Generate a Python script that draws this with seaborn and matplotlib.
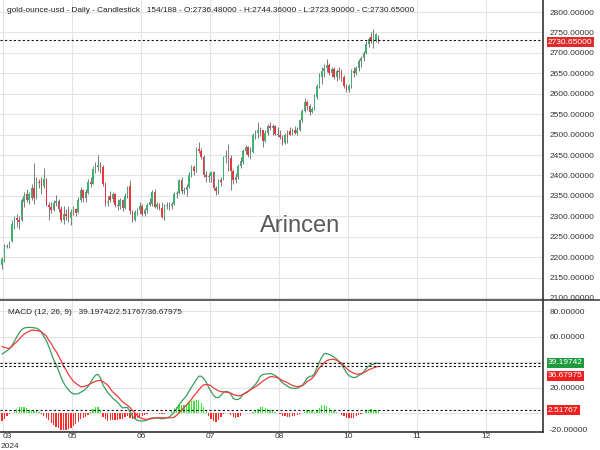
import numpy as np
import matplotlib
matplotlib.use('Agg')
import matplotlib.pyplot as plt
import seaborn as sns
from matplotlib.patches import Rectangle
from matplotlib.lines import Line2D

# ---------------- data ----------------
opens = [2180, 2195, 2225, 2232, 2240, 2275, 2295, 2290, 2290, 2335,
         2355, 2340, 2345, 2370, 2345, 2383, 2388, 2375, 2392, 2328,
         2322, 2316, 2332, 2338, 2318, 2290, 2305, 2312, 2295, 2310,
         2318, 2310, 2340, 2365, 2345, 2358, 2385, 2380, 2415, 2420,
         2425, 2420, 2378, 2332, 2350, 2342, 2355, 2328, 2325, 2340,
         2320, 2350, 2375, 2310, 2292, 2310, 2315, 2325, 2305, 2315,
         2328, 2330, 2360, 2322, 2330, 2320, 2298, 2325, 2328, 2325,
         2330, 2355, 2358, 2388, 2362, 2365, 2372, 2400, 2420, 2410,
         2465, 2460, 2445, 2400, 2395, 2398, 2408, 2370, 2362, 2388,
         2390, 2445, 2445, 2442, 2410, 2388, 2395, 2422, 2432, 2460,
         2470, 2450, 2458, 2500, 2505, 2512, 2510, 2485, 2505, 2520,
         2516, 2520, 2502, 2500, 2495, 2480, 2498, 2508, 2500, 2510,
         2505, 2512, 2535, 2558, 2580, 2570, 2555, 2562, 2592, 2620,
         2640, 2655, 2662, 2670, 2650, 2660, 2640, 2655, 2652, 2640,
         2620, 2610, 2618, 2655, 2650, 2662, 2680, 2688, 2700, 2722,
         2738, 2730, 2730, 2736.48]
highs = [2200, 2232, 2232, 2240, 2290, 2300, 2305, 2300, 2345, 2360,
         2368, 2360, 2378, 2430, 2395, 2392, 2395, 2418, 2393, 2335,
         2335, 2340, 2352, 2342, 2325, 2325, 2318, 2325, 2318, 2325,
         2320, 2348, 2372, 2368, 2368, 2392, 2395, 2422, 2432, 2450,
         2432, 2425, 2385, 2350, 2362, 2360, 2358, 2342, 2345, 2342,
         2358, 2375, 2388, 2315, 2315, 2320, 2335, 2330, 2320, 2332,
         2345, 2365, 2368, 2335, 2332, 2335, 2330, 2335, 2335, 2335,
         2360, 2362, 2392, 2395, 2372, 2378, 2408, 2425, 2425, 2470,
         2483, 2468, 2450, 2412, 2405, 2410, 2412, 2375, 2392, 2395,
         2448, 2462, 2478, 2450, 2415, 2405, 2428, 2445, 2465, 2475,
         2472, 2470, 2505, 2510, 2531, 2518, 2512, 2512, 2525, 2530,
         2525, 2524, 2518, 2512, 2500, 2505, 2512, 2518, 2515, 2520,
         2518, 2538, 2562, 2590, 2585, 2575, 2568, 2600, 2625, 2650,
         2665, 2672, 2685, 2675, 2665, 2665, 2660, 2665, 2660, 2645,
         2625, 2625, 2660, 2665, 2668, 2685, 2692, 2705, 2728, 2740,
         2750, 2758, 2748, 2744.36]
lows = [2172, 2188, 2222, 2222, 2238, 2268, 2275, 2268, 2288, 2322,
        2335, 2330, 2340, 2330, 2342, 2370, 2355, 2370, 2325, 2292,
        2308, 2312, 2325, 2310, 2285, 2280, 2290, 2285, 2278, 2302,
        2300, 2308, 2335, 2335, 2335, 2355, 2372, 2378, 2405, 2412,
        2405, 2375, 2325, 2325, 2335, 2335, 2322, 2315, 2318, 2312,
        2318, 2345, 2305, 2286, 2288, 2302, 2305, 2300, 2300, 2308,
        2325, 2325, 2320, 2318, 2315, 2295, 2292, 2318, 2315, 2318,
        2328, 2345, 2355, 2355, 2355, 2350, 2370, 2395, 2402, 2408,
        2455, 2440, 2395, 2385, 2385, 2385, 2365, 2353, 2355, 2375,
        2388, 2430, 2410, 2365, 2380, 2382, 2392, 2418, 2428, 2452,
        2445, 2440, 2455, 2490, 2492, 2497, 2470, 2482, 2500, 2512,
        2498, 2500, 2495, 2488, 2475, 2478, 2480, 2498, 2498, 2502,
        2498, 2508, 2530, 2555, 2560, 2548, 2552, 2560, 2588, 2615,
        2625, 2640, 2652, 2645, 2640, 2635, 2630, 2635, 2630, 2615,
        2605, 2604, 2615, 2640, 2645, 2655, 2665, 2680, 2698, 2715,
        2725, 2712, 2726, 2723.90]
closes = [2195, 2225, 2228, 2236, 2282, 2295, 2290, 2285, 2340, 2350,
          2340, 2355, 2370, 2345, 2390, 2382, 2372, 2392, 2328, 2322,
          2316, 2332, 2338, 2318, 2290, 2305, 2300, 2295, 2310, 2318,
          2308, 2340, 2365, 2345, 2360, 2385, 2380, 2415, 2420, 2425,
          2420, 2380, 2330, 2335, 2340, 2355, 2328, 2325, 2340, 2320,
          2350, 2368, 2312, 2292, 2310, 2315, 2325, 2305, 2315, 2328,
          2335, 2360, 2322, 2330, 2320, 2298, 2325, 2328, 2325, 2330,
          2355, 2358, 2388, 2362, 2365, 2372, 2400, 2420, 2410, 2465,
          2460, 2445, 2400, 2395, 2398, 2408, 2370, 2362, 2388, 2385,
          2445, 2445, 2442, 2410, 2388, 2395, 2422, 2435, 2460, 2470,
          2450, 2455, 2500, 2505, 2512, 2510, 2485, 2505, 2520, 2516,
          2520, 2502, 2500, 2495, 2480, 2498, 2495, 2500, 2510, 2505,
          2512, 2535, 2558, 2580, 2570, 2555, 2562, 2592, 2620, 2640,
          2655, 2662, 2670, 2650, 2660, 2640, 2655, 2652, 2640, 2620,
          2610, 2618, 2655, 2650, 2662, 2680, 2688, 2700, 2722, 2735,
          2728, 2740, 2745, 2730.65]

macd_line = [46.4, 47.5, 48.9, 50.4, 52.8, 56.3, 59.7, 63.0, 65.4, 66.7,
             67.1, 67.2, 67.1, 66.9, 66.6, 65.5, 63.6, 60.0, 57.0, 52.3,
             47.0, 41.9, 38.0, 33.4, 28.3, 24.1, 20.9, 18.4, 16.5, 15.2,
             15.2, 15.5, 16.5, 17.6, 19.0, 21.2, 24.2, 27.4, 29.8, 30.6,
             27.8, 22.4, 19.2, 16.3, 14.2, 12.0, 10.3, 8.6, 6.5, 4.3,
             4.6, 4.6, 1.4, -1.9, -4.1, -5.3, -5.8, -5.9, -5.7, -5.1,
             -4.0, -3.5, -3.4, -3.4, -3.8, -4.2, -4.0, -3.4, -2.8, -1.0,
             1.2, 3.7, 6.8, 9.3, 11.6, 13.9, 17.3, 20.4, 23.3, 26.2,
             29.1, 29.1, 27.1, 24.4, 20.5, 17.2, 14.0, 12.4, 12.4, 14.0,
             16.4, 17.2, 16.9, 15.0, 11.7, 10.9, 10.9, 12.3, 15.0, 16.2,
             17.4, 18.6, 20.8, 22.7, 25.3, 28.9, 30.4, 30.7, 30.9, 31.2,
             30.6, 29.6, 28.4, 26.1, 23.9, 22.6, 21.4, 20.1, 19.7, 19.6,
             19.7, 20.7, 21.7, 24.4, 27.5, 28.9, 29.2, 30.9, 35.5, 40.1,
             44.0, 46.7, 46.8, 46.0, 45.2, 43.9, 42.5, 40.7, 38.3, 35.2,
             31.8, 29.6, 28.5, 28.0, 28.4, 29.7, 30.8, 32.4, 35.0, 36.9,
             37.9, 38.6, 39.1, 39.19742]
signal_line = [52.3, 51.5, 51.1, 50.8, 52.3, 54.3, 55.9, 58.1, 60.2, 62.0,
               63.2, 64.3, 64.9, 65.1, 64.7, 64.6, 63.7, 62.1, 60.5, 57.2,
               54.6, 51.0, 48.4, 44.9, 41.3, 37.0, 34.1, 30.5, 27.7, 25.1,
               23.5, 22.1, 20.9, 20.9, 21.4, 22.1, 23.2, 24.3, 25.1, 25.6,
               25.9, 24.8, 23.6, 22.0, 19.4, 16.8, 15.1, 13.4, 11.2, 9.0,
               7.7, 6.3, 4.6, 2.4, 0.5, -1.5, -3.3, -4.1, -4.5, -4.6,
               -4.4, -4.0, -3.7, -3.4, -3.4, -3.4, -3.4, -3.4, -3.4, -3.4,
               -2.9, -1.5, 0.4, 2.8, 4.7, 6.3, 8.7, 10.9, 13.9, 15.9,
               18.4, 20.7, 22.3, 22.6, 22.4, 21.6, 19.8, 18.7, 17.7, 17.0,
               16.9, 16.6, 16.4, 15.9, 14.8, 14.2, 13.8, 14.0, 14.9, 15.9,
               16.9, 18.5, 19.6, 20.8, 22.1, 23.7, 25.2, 26.5, 27.7, 28.7,
               28.7, 28.3, 27.8, 26.9, 25.6, 24.9, 24.1, 22.9, 21.9, 21.3,
               20.9, 21.2, 21.6, 23.0, 24.8, 26.0, 27.4, 29.5, 32.5, 35.6,
               37.6, 39.8, 41.2, 41.9, 42.2, 42.2, 41.5, 40.4, 39.4, 37.3,
               35.3, 33.4, 32.4, 31.5, 30.7, 30.7, 31.1, 31.8, 32.8, 34.1,
               34.8, 35.6, 36.3, 36.67975]

month_labels = ['03', '05', '06', '07', '08', '10', '11', '12']
price_ticks = [2100, 2150, 2200, 2250, 2300, 2350, 2400, 2450,
               2500, 2550, 2600, 2650, 2700, 2750, 2800]
macd_ticks = [0, 20, 40, 60, 80]
title_text = ("gold-ounce-usd - Daily - Candlestick   154/188 - O:2736.48000 - "
              "H:2744.36000 - L:2723.90000 - C:2730.65000")

# ---------------- style ----------------
sns.set_theme(style='white')
plt.rcParams['font.family'] = ['Liberation Sans', 'DejaVu Sans']

GREEN = '#3cb371'
RED = '#e8383b'
WICK = '#7a7a7a'
GRID = '#e4e4e4'
HIST_G = '#39e639'
HIST_R = '#ff2b2b'
AXC = '#222222'
TXT = '#333333'
FS = 6.0

W, H = 600, 450
def fx(px): return px / W
def fy(py): return 1 - py / H

o = np.array(opens, float); h = np.array(highs, float)
l = np.array(lows, float); c = np.array(closes, float)
m = np.array(macd_line, float); s = np.array(signal_line, float)
hist = m - s
n = len(c)
idx = np.arange(n)

fig = plt.figure(figsize=(6, 4.5), dpi=100)
ax1 = fig.add_axes([0, fy(300), 543 / W, 300 / H])
ax2 = fig.add_axes([0, fy(432), 543 / W, 132 / H], sharex=ax1)

# px -> bar index mapping: x_px = 2 + 2.46 * i
step = 2.46
x0 = 2.0
xlim = ((0 - x0) / step, (543 - x0) / step)
grid_px = [3, 72, 141, 210, 279, 348, 417, 486]
grid_pos = [(g - x0) / step for g in grid_px]

# ---------------- main candle panel ----------------
ax1.set_axisbelow(True)
cols = [GREEN if cc >= oo else RED for oo, cc in zip(o, c)]
ax1.vlines(idx, l, h, color=WICK, lw=0.7, zorder=2)
body_bot = np.minimum(o, c)
body_h = np.maximum(np.abs(c - o), 1.5)
ax1.bar(idx, body_h, bottom=body_bot, width=0.62, color=cols, linewidth=0, zorder=3)

ax1.axhline(c[-1], color='#111111', lw=0.8, ls=(0, (2, 2)), zorder=4)

ax1.set_ylim(2095.1, 2829.4)
ax1.set_xlim(*xlim)
ax1.set_yticks(price_ticks)
ax1.set_yticklabels([f"{v:.5f}" for v in price_ticks])
ax1.yaxis.tick_right()
ax1.tick_params(axis='y', length=0, pad=5, labelsize=FS, labelcolor=TXT)
ax1.tick_params(axis='x', bottom=False, labelbottom=False)
ax1.set_xticks(grid_pos)
ax1.grid(True, color=GRID, lw=0.8)
for sp in ['top', 'left', 'bottom']:
    ax1.spines[sp].set_visible(False)
ax1.spines['right'].set_color(AXC)
ax1.spines['right'].set_linewidth(1.1)

ax1.text(0.5525, 0.247, 'Arincen', transform=ax1.transAxes, ha='center',
         va='center', fontsize=17, color='#5a5a5a', zorder=1)

# ---------------- MACD panel ----------------
ax2.set_axisbelow(True)
hcols = [HIST_G if v >= 0 else HIST_R for v in hist]
ax2.bar(idx, hist, width=0.55, color=hcols, linewidth=0, zorder=2)
sns.lineplot(x=idx, y=m, ax=ax2, color='#3a9d5d', linewidth=0.9, legend=False, zorder=3)
sns.lineplot(x=idx, y=s, ax=ax2, color='#ee3b3b', linewidth=0.9, legend=False, zorder=3)
for v in (m[-1], s[-1], hist[-1]):
    ax2.axhline(v, color='#111111', lw=0.8, ls=(0, (2, 2)), zorder=4)

ax2.set_ylim(-14.5, 88.6)
ax2.set_xlim(*xlim)
ax2.set_yticks(macd_ticks)
ax2.set_yticklabels(['', '20.00000', '', '60.00000', '80.00000'])
ax2.yaxis.tick_right()
ax2.tick_params(axis='y', length=0, pad=5, labelsize=FS, labelcolor=TXT)
ax2.set_xticks(grid_pos)
ax2.set_xticklabels(month_labels)
ax2.tick_params(axis='x', length=0, pad=1, labelsize=FS, labelcolor=TXT)
ax2.get_xticklabels()[0].set_ha('left')
ax2.grid(True, color=GRID, lw=0.8)
ax2.set_xlabel(''); ax2.set_ylabel('')
for sp in ['top', 'left']:
    ax2.spines[sp].set_visible(False)
for sp in ['right', 'bottom']:
    ax2.spines[sp].set_color(AXC)
    ax2.spines[sp].set_linewidth(1.1)

# ---------------- texts / badges ----------------
fig.text(fx(7), fy(10), title_text, fontsize=5.95, color='#222222', va='center', ha='left')
fig.text(fx(8), fy(312), 'MACD (12, 26, 9)   39.19742/2.51767/36.67975',
         fontsize=5.95, color='#222222', va='center', ha='left')
fig.text(fx(1), fy(446.5), '2024', fontsize=FS, color=TXT, va='center', ha='left')
fig.text(fx(550), fy(430), '-20.00000', fontsize=FS, color=TXT, va='center', ha='left')

def badge(py, txt, fc):
    fig.text(fx(548), fy(py), txt, fontsize=FS, color='white', va='center', ha='left',
             zorder=8, bbox=dict(boxstyle='square,pad=0.18', fc=fc, ec='none'))

badge(42, f"{c[-1]:.5f}", '#e02b2b')
badge(363, f"{m[-1]:.5f}", '#1f9a3e')
badge(375.5, f"{s[-1]:.5f}", '#f02020')
badge(410, f"{hist[-1]:.5f}", '#f02020')

fig.patches.append(Rectangle((fx(545), fy(306)), 55 / W, 6 / H, transform=fig.transFigure,
                             fc='white', ec='none', zorder=5))
fig.lines.append(Line2D([0, 1], [fy(300), fy(300)], transform=fig.transFigure,
                        color='#333333', lw=1.1, zorder=6))

fig.savefig('out.png', dpi=100)
